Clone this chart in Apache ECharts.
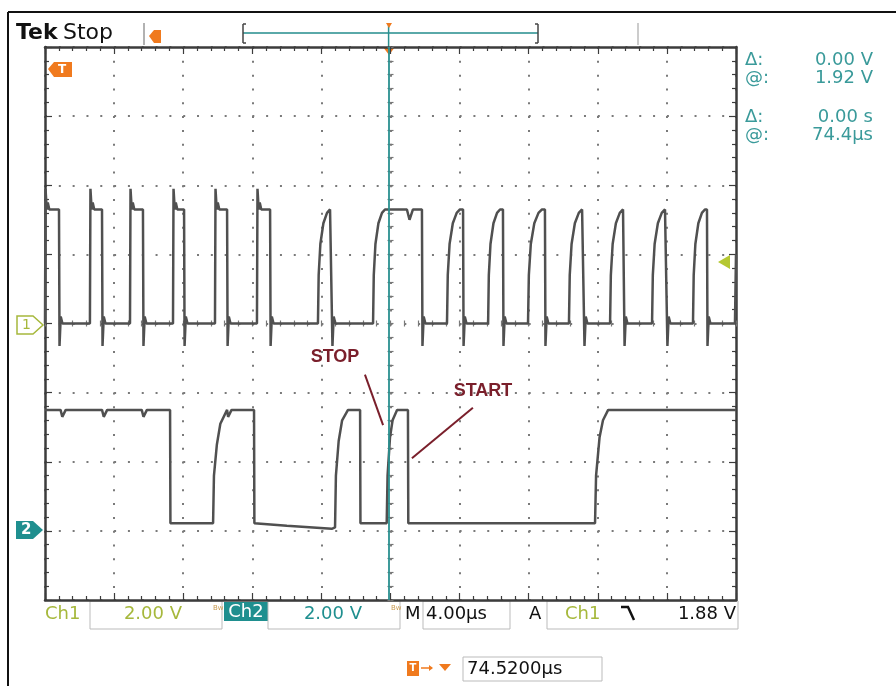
<!DOCTYPE html>
<html><head><meta charset="utf-8">
<script src="https://cdn.jsdelivr.net/npm/echarts@6/dist/echarts.min.js"></script>
<style>html,body{margin:0;padding:0;background:#fff}#c{width:896px;height:686px}</style>
</head><body><div id="c"></div>
<script>
// ---- axes (time in µs, vertical in divisions) ----
const T_MIN = 0, T_MAX = 40, T_DIV = 4;
const Y_MIN = 0, Y_MAX = 8, Y_DIV = 1;
const CH1_OFFSET_DIV = 4, CH2_OFFSET_DIV = 1, VOLTS_PER_DIV = 2;
const CURSOR_T = 19.88;

// ---- Ch1 (volts) ----
const CH1_HIGH = 3.3;
const ch1SharpPulses = [[0.00,0.81],[2.60,3.30],[4.92,5.67],[7.41,8.05],[9.84,10.54],[12.27,13.03]];
const ch1RoundPulses = [[15.80,16.50,16.61],[18.99,19.68,21.82],[23.27,24.02,24.20],[25.65,26.34,26.51],
  [27.96,28.77,28.94],[30.33,31.09,31.20],[32.71,33.46,33.52],[35.14,35.89,36.00],[37.51,38.20,38.32]];
const ch1FinalRise = 39.94;
const ch1SharpRiseShape = [[0,0],[0.03,3.9],[0.10,3.3],[0.16,3.5],[0.25,3.3]];
const ch1RoundRiseShape = [[0,0],[0.06,1.4],[0.2,2.3],[0.45,2.9],[0.75,3.2],[1,3.3]];
const ch1FallShape = [[0,3.3],[0.03,-0.65],[0.10,0.2],[0.2,0]];
const ch1Extra = [[20.95,3.3],[21.1,3.0],[21.3,3.3]];

// ---- Ch2 (volts) ----
const ch2Points = [
  [0,3.5],[0.9,3.5],[1.0,3.3],[1.2,3.5],[3.3,3.5],[3.4,3.3],[3.6,3.5],[5.6,3.5],[5.7,3.3],[5.9,3.5],[7.24,3.5],
  [7.26,0.22],[9.73,0.22],[9.78,1.6],[9.95,2.5],[10.15,3.1],[10.54,3.5],[10.6,3.3],[10.8,3.5],[12.1,3.5],
  [12.12,0.22],[14.0,0.15],[16.6,0.06],[16.79,0.1],[16.84,1.6],[17.0,2.6],[17.2,3.2],[17.54,3.5],[18.24,3.5],
  [18.26,0.22],[19.78,0.22],[19.83,1.6],[19.97,2.7],[20.12,3.2],[20.38,3.5],[21.01,3.5],
  [21.03,0.22],[31.84,0.22],[31.9,1.6],[32.1,2.7],[32.3,3.2],[32.6,3.5],[40,3.5]
];

// ---- annotations (time µs, divisions) ----
const stopArrow = [[18.52,3.26],[19.57,2.53]];
const startArrow = [[24.77,2.78],[21.24,2.05]];

const toDiv = (off, v) => off + v / VOLTS_PER_DIV;

let ch1 = [];
ch1SharpPulses.forEach(([r,f]) => {
  ch1SharpRiseShape.forEach(([dt,v]) => ch1.push([r+dt, v]));
  ch1FallShape.forEach(([dt,v]) => ch1.push([f+dt, v]));
});
ch1RoundPulses.forEach(([r,top,f]) => {
  ch1RoundRiseShape.forEach(([fr,v]) => ch1.push([r+fr*(top-r), v]));
  ch1FallShape.forEach(([dt,v]) => ch1.push([f+dt, v]));
});
ch1Extra.forEach(p => ch1.push(p));
ch1.push([ch1FinalRise,0],[40,2.0]);
ch1.sort((a,b)=>a[0]-b[0]);
const ch1Data = ch1.map(([t,v]) => [t, toDiv(CH1_OFFSET_DIV, v)]);
const ch2Data = ch2Points.map(([t,v]) => [t, toDiv(CH2_OFFSET_DIV, v)]);

const FRAME = '#3c3c3c';
const DOTS = {show:true, lineStyle:{color:'#7a7a7a', width:2, type:[2,11.82]}};
function frameAxis(extra){
  return Object.assign({
    type:'value', min:T_MIN, max:T_MAX, interval:T_DIV,
    axisLine:{show:true, onZero:false, lineStyle:{color:FRAME, width:2.5}},
    axisTick:{show:true, inside:true, length:7, lineStyle:{color:FRAME, width:1.2}},
    minorTick:{show:true, splitNumber:5, length:4, lineStyle:{color:FRAME, width:1.2}},
    axisLabel:{show:false}, splitLine:{show:false}
  }, extra);
}
function centerAxis(extra){
  return Object.assign({
    type:'value', min:T_MIN, max:T_MAX, interval:T_DIV,
    axisLine:{show:false, onZero:false},
    axisTick:{show:true, length:3, lineStyle:{color:'#777', width:1.2}},
    minorTick:{show:true, splitNumber:5, length:3, lineStyle:{color:'#777', width:1.2}},
    axisLabel:{show:false}, splitLine:{show:false}
  }, extra);
}
const yExtra = {min:Y_MIN, max:Y_MAX, interval:Y_DIV};

const FONT = '"DejaVu Sans", Verdana, sans-serif';
const TEAL = '#1f8f8f', TEAL_T = '#3a9a9a', YG = '#a6b83c', ORANGE = '#f07a1e';
function txt(x,y,text,size,fill,opts){
  return {type:'text', x, y, silent:true, style:Object.assign({text, fill, font:`${size}px ${FONT}`, textAlign:'left', textVerticalAlign:'middle'}, opts||{})};
}
function line(x1,y1,x2,y2,stroke,w){return {type:'line', silent:true, shape:{x1,y1,x2,y2}, style:{stroke, lineWidth:w||1}};}
function rect(x,y,w,h,stroke,fill){return {type:'rect', silent:true, shape:{x,y,width:w,height:h}, style:{stroke:stroke||'none', fill:fill||'none', lineWidth:1}};}
function poly(points,fill,stroke){return {type:'polygon', silent:true, shape:{points}, style:{fill:fill||'none', stroke:stroke||'none', lineWidth:1.5}};}

const graphic = [
  // outer border
  line(8,12,896,12,'#111',2), line(8,12,8,686,'#111',2),
  // header
  txt(16,33,'Tek',22,'#111',{font:`bold 22px ${FONT}`}),
  txt(63,33,'Stop',22,'#111'),
  line(144,23,144,45,'#999',1.5),
  poly([[149,36],[154,30],[161,30],[161,43],[154,43]],ORANGE),
  // record bracket
  line(243,33,538,33,'#5aa9a9',2),
  line(243,24,243,43,'#444',1.5), line(243,24,246,24,'#444',1.5), line(243,43,246,43,'#444',1.5),
  line(538,24,538,43,'#444',1.5), line(535,24,538,24,'#444',1.5), line(535,43,538,43,'#444',1.5),
  line(388.6,24,388.6,47,'#2a9090',1.5),
  poly([[386,23],[392,23],[389,28]],ORANGE),
  line(638,23,638,45,'#bbb',1.5),
  // trigger position marker at graticule top
  poly([[383,47],[395,47],[389,55]],ORANGE),
  // T marker top-left
  poly([[48,69],[54,62],[72,62],[72,77],[54,77]],ORANGE),
  txt(58,69.5,'T',12,'#fff',{font:`bold 12px ${FONT}`}),
  // trigger level arrow right
  poly([[718,262],[730,255],[730,269]],'#b5c832'),
  // channel markers
  poly([[17,316],[33,316],[43,325],[33,334],[17,334]],'#fff',YG),
  txt(22,325,'1',14,YG),
  poly([[16,521],[33,521],[43,530],[33,539],[16,539]],TEAL),
  txt(21,530.5,'2',15,'#fff',{font:`bold 15px ${FONT}`}),
  // right readouts
  txt(745,60,'\u0394:',18,TEAL_T), txt(745,78,'@:',18,TEAL_T),
  txt(873,60,'0.00 V',18,TEAL_T,{textAlign:'right'}), txt(873,78,'1.92 V',18,TEAL_T,{textAlign:'right'}),
  txt(745,117,'\u0394:',18,TEAL_T), txt(745,135,'@:',18,TEAL_T),
  txt(873,117,'0.00 s',18,TEAL_T,{textAlign:'right'}), txt(873,135,'74.4\u00b5s',18,TEAL_T,{textAlign:'right'}),
  // bottom readouts
  txt(45,614,'Ch1',18,YG),
  rect(90,601,132,28,'#bbb'),
  txt(182,614,'2.00 V',18,YG,{textAlign:'right'}),
  txt(213,608,'Bw',7,'#c89a50'),
  rect(224,602,44,19,null,TEAL),
  txt(246,612,'Ch2',18,'#fff',{textAlign:'center'}),
  rect(268,601,132,28,'#bbb'),
  txt(362,614,'2.00 V',18,TEAL,{textAlign:'right'}),
  txt(391,608,'Bw',7,'#c89a50'),
  txt(405,614,'M',18,'#111'),
  rect(423,601,87,28,'#bbb'),
  txt(426,614,'4.00\u00b5s',18,'#111'),
  txt(529,614,'A',18,'#111'),
  rect(547,601,191,28,'#bbb'),
  txt(565,614,'Ch1',18,YG),
  {type:'polyline', silent:true, shape:{points:[[621,607],[628,607],[634,620]]}, style:{stroke:'#111', lineWidth:2.5, fill:'none'}},
  txt(736,614,'1.88 V',18,'#111',{textAlign:'right'}),
  // trigger time readout
  rect(407,661,12,15,null,ORANGE),
  txt(413,668.5,'T',10,'#fff',{textAlign:'center',font:`bold 10px ${FONT}`}),
  line(421,668,432,668,ORANGE,1.5), poly([[429,665],[433,668],[429,671]],ORANGE),
  poly([[439,664],[451,664],[445,671]],ORANGE),
  rect(463,657,139,24,'#bbb'),
  txt(467,669,'74.5200\u00b5s',18,'#111'),
  // annotations text
  txt(335,357,'STOP',18,'#7a1f2b',{textAlign:'center',font:`bold 18px "Liberation Sans", Arial, sans-serif`}),
  txt(483,391,'START',18,'#7a1f2b',{textAlign:'center',font:`bold 18px "Liberation Sans", Arial, sans-serif`})
];

const chart = echarts.init(document.getElementById('c'), null, {renderer:'canvas'});
chart.setOption({
  animation:false,
  backgroundColor:'#fff',
  grid:{left:45, top:47, width:691, height:553},
  xAxis:[
    frameAxis({position:'bottom', splitLine:DOTS}),
    frameAxis({position:'top'}),
    centerAxis({position:'bottom', offset:-276.5, axisTick:{show:true, inside:true, length:3, lineStyle:{color:'#777', width:1.2}}}),
    centerAxis({position:'bottom', offset:-276.5})
  ],
  yAxis:[
    frameAxis(Object.assign({position:'left', splitLine:DOTS}, yExtra)),
    frameAxis(Object.assign({position:'right'}, yExtra)),
    centerAxis(Object.assign({position:'left', offset:-345.5, axisTick:{show:true, inside:true, length:3, lineStyle:{color:'#777', width:1.2}}}, yExtra)),
    centerAxis(Object.assign({position:'left', offset:-345.5}, yExtra))
  ],
  series:[
    {type:'line', name:'Ch1', data:ch1Data, xAxisIndex:0, yAxisIndex:0, showSymbol:false, symbol:'none',
     lineStyle:{color:'#505050', width:2.5}, silent:true,
     markLine:{symbol:'none', silent:true, label:{show:false},
       lineStyle:{color:'#2a9090', width:1.8, type:'solid'}, data:[{xAxis:CURSOR_T}]}},
    {type:'line', name:'Ch2', data:ch2Data, xAxisIndex:0, yAxisIndex:0, showSymbol:false, symbol:'none',
     lineStyle:{color:'#505050', width:2.5}, silent:true,
     markLine:{symbol:'none', silent:true, label:{show:false},
       lineStyle:{color:'#7a1f2b', width:2, type:'solid'},
       data:[[{coord:stopArrow[0]},{coord:stopArrow[1]}],[{coord:startArrow[0]},{coord:startArrow[1]}]]}}
  ],
  graphic:graphic
});
</script></body></html>
